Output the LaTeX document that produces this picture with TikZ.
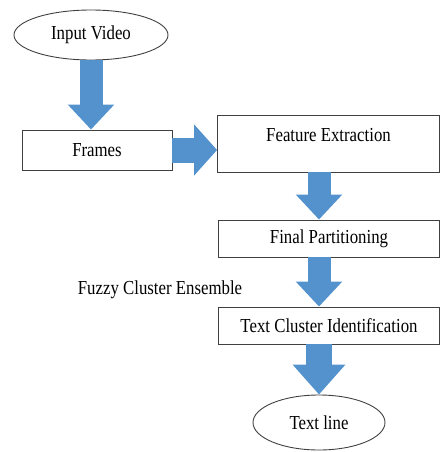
\documentclass[tikz,border=0pt]{standalone}
\usepackage{graphicx}
\usepackage{fontspec}
\setmainfont{Liberation Serif}
\usetikzlibrary{shapes.geometric,arrows.meta}
\definecolor{flowblue}{RGB}{84,146,206}
\newcommand{\tallt}[1]{\scalebox{1}[1.18]{#1}}

\begin{document}
\begin{tikzpicture}[x=1pt, y=-1pt,
    font=\fontsize{16.8}{20}\selectfont,
    box/.style={draw=black!75, line width=0.9pt, rectangle, inner sep=0pt},
    oval/.style={draw=black!75, line width=0.9pt, ellipse, inner sep=0pt},
    flow/.style={draw=flowblue, line width=23pt, -{Triangle[width=45pt, length=25pt]}}]
  \useasboundingbox (0,0) rectangle (441,452);

  % boxes and ovals
  \node [oval, minimum width=154pt, minimum height=50pt](vid) at (91,35) {\tallt{Input Video}};
  \node [box, minimum width=150pt, minimum height=40pt](frm) at (97,150) {\tallt{Frames}};
  \node [box, minimum width=222pt, minimum height=57pt, text depth=18pt](feat) at (328.5,143.5) {\tallt{Feature Extraction}};
  \node [box, minimum width=221pt, minimum height=37pt](fin) at (329,238.5) {\tallt{Final Partitioning}};
  \node [box, minimum width=221pt, minimum height=37pt](tci) at (329,325.5) {\tallt{Text Cluster Identification}};
  \node [oval, minimum width=132pt, minimum height=55pt](tln) at (319,422.5) {\tallt{Text line}};

  \node (fce) at (160,290) {\tallt{Fuzzy Cluster Ensemble}};

  % block arrows
  \draw [flow] (vid.south) -- (vid.south |- frm.north);
  \draw [flow, line width=25pt, -{Triangle[width=50pt, length=23pt]}] (frm.east) -- (frm.east -| feat.west);
  \draw [flow] (feat.south -| tln) -- (fin.north -| tln);
  \draw [flow] (fin.south -| tln) -- (tci.north -| tln);
  \draw [flow, line width=26pt, -{Triangle[width=51pt, length=30pt]}] (tci.south -| tln) -- (tln.north);
\end{tikzpicture}
\end{document}
